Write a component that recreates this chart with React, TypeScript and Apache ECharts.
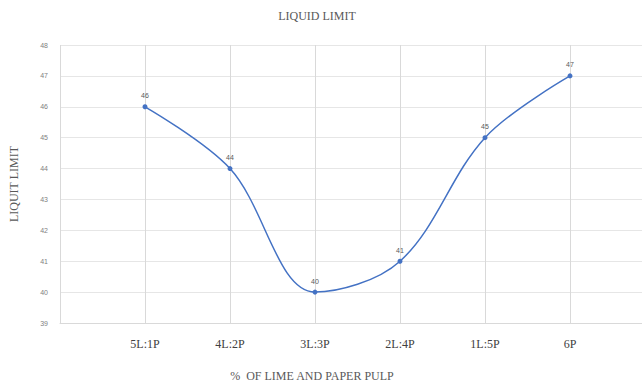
import React, { useEffect, useRef } from "react";
import * as echarts from "echarts";

const categories = ["", "5L:1P", "4L:2P", "3L:3P", "2L:4P", "1L:5P", "6P", ""];
const liquidLimit = [null, 46, 44, 40, 41, 45, 47, null];
const yMin = 39;
const yMax = 48;

export default function App() {
  const ref = useRef<HTMLDivElement>(null);
  useEffect(() => {
    if (!ref.current) return;
    const chart = echarts.init(ref.current, null, { renderer: "svg" });
    chart.setOption({
      animation: false,
      backgroundColor: "#ffffff",
      graphic: [
        {
          type: "text",
          x: 317,
          y: 10,
          style: {
            text: "LIQUID LIMIT",
            fill: "#595959",
            font: "12px 'Liberation Serif', 'DejaVu Serif', serif",
            textAlign: "center",
          },
        },
        {
          type: "text",
          x: 312,
          y: 370,
          style: {
            text: "%  OF LIME AND PAPER PULP",
            fill: "#595959",
            font: "12px 'Liberation Serif', 'DejaVu Serif', serif",
            textAlign: "center",
          },
        },
      ],
      grid: {
        left: 60,
        top: 45,
        height: 278,
        width: 595,
        containLabel: false,
        outerBoundsMode: "none",
      },
      xAxis: {
        type: "category",
        data: categories,
        boundaryGap: false,
        axisLine: { show: true, lineStyle: { color: "#d9d9d9" } },
        axisTick: { show: false },
        axisLabel: {
          color: "#404040",
          fontSize: 12,
          fontFamily: "'Liberation Serif', 'DejaVu Serif', serif",
          margin: 15,
          interval: 0,
        },
        splitLine: { show: true, lineStyle: { color: "#d9d9d9" } },
      },
      yAxis: {
        type: "value",
        min: yMin,
        max: yMax,
        interval: 1,
        name: "LIQUIT LIMIT",
        nameLocation: "middle",
        nameGap: 40,
        nameTextStyle: {
          color: "#595959",
          fontSize: 12,
          fontFamily: "'Liberation Serif', 'DejaVu Serif', serif",
        },
        axisLine: { show: false },
        axisTick: { show: false },
        axisLabel: { color: "#7f7f7f", fontSize: 7, margin: 12, fontFamily: "Arial, 'Liberation Sans', sans-serif" },
        splitLine: { show: true, lineStyle: { color: "#e6e6e6" } },
      },
      series: [
        {
          type: "line",
          data: liquidLimit,
          smooth: 0.35,
          symbol: "circle",
          symbolSize: 5,
          itemStyle: { color: "#4472C4" },
          lineStyle: { color: "#4472C4", width: 1.5 },
          label: {
            show: true,
            position: "top",
            distance: 5,
            color: "#595959",
            fontSize: 7,
            fontFamily: "Arial, 'Liberation Sans', sans-serif",
          },
        },
      ],
    });
    return () => chart.dispose();
  }, []);
  return (
    <div
      ref={ref}
      style={{ position: "absolute", left: 0, top: 0, width: 642, height: 383, overflow: "hidden" }}
    />
  );
}
